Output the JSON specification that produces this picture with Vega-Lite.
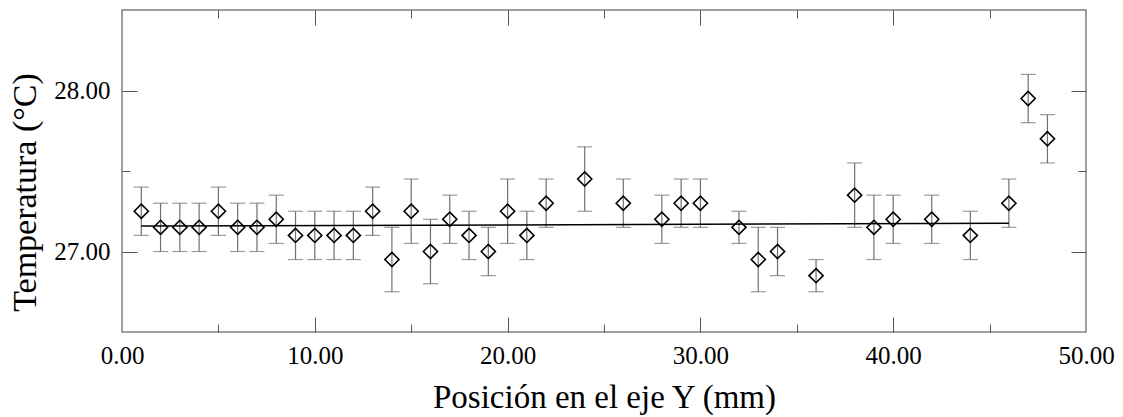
{
  "$schema": "https://vega.github.io/schema/vega-lite/v6.json",
  "width": 964,
  "height": 322,
  "autosize": "none",
  "padding": {"left": 122, "top": 10, "right": 37, "bottom": 85},
  "background": "white",
  "config": {
    "view": {"stroke": "#808080", "strokeWidth": 1.5},
    "font": "Liberation Serif",
    "style": {"guide-label": {"font": "Liberation Serif"}, "guide-title": {"font": "Liberation Serif"}},
    "axis": {"domain": false, "grid": false, "labelColor": "black", "titleColor": "black", "labelFont": "Liberation Serif", "titleFont": "Liberation Serif", "titleFontWeight": "normal"}
  },
  "datasets": {
    "pts": [
      {"x": 1, "y": 27.25, "lo": 27.10, "hi": 27.40},
      {"x": 2, "y": 27.15, "lo": 27.00, "hi": 27.30},
      {"x": 3, "y": 27.15, "lo": 27.00, "hi": 27.30},
      {"x": 4, "y": 27.15, "lo": 27.00, "hi": 27.30},
      {"x": 5, "y": 27.25, "lo": 27.10, "hi": 27.40},
      {"x": 6, "y": 27.15, "lo": 27.00, "hi": 27.30},
      {"x": 7, "y": 27.15, "lo": 27.00, "hi": 27.30},
      {"x": 8, "y": 27.20, "lo": 27.05, "hi": 27.35},
      {"x": 9, "y": 27.10, "lo": 26.95, "hi": 27.25},
      {"x": 10, "y": 27.10, "lo": 26.95, "hi": 27.25},
      {"x": 11, "y": 27.10, "lo": 26.95, "hi": 27.25},
      {"x": 12, "y": 27.10, "lo": 26.95, "hi": 27.25},
      {"x": 13, "y": 27.25, "lo": 27.10, "hi": 27.40},
      {"x": 14, "y": 26.95, "lo": 26.75, "hi": 27.15},
      {"x": 15, "y": 27.25, "lo": 27.05, "hi": 27.45},
      {"x": 16, "y": 27.00, "lo": 26.80, "hi": 27.20},
      {"x": 17, "y": 27.20, "lo": 27.05, "hi": 27.35},
      {"x": 18, "y": 27.10, "lo": 26.95, "hi": 27.25},
      {"x": 19, "y": 27.00, "lo": 26.85, "hi": 27.15},
      {"x": 20, "y": 27.25, "lo": 27.05, "hi": 27.45},
      {"x": 21, "y": 27.10, "lo": 26.95, "hi": 27.25},
      {"x": 22, "y": 27.30, "lo": 27.15, "hi": 27.45},
      {"x": 24, "y": 27.45, "lo": 27.25, "hi": 27.65},
      {"x": 26, "y": 27.30, "lo": 27.15, "hi": 27.45},
      {"x": 28, "y": 27.20, "lo": 27.05, "hi": 27.35},
      {"x": 29, "y": 27.30, "lo": 27.15, "hi": 27.45},
      {"x": 30, "y": 27.30, "lo": 27.15, "hi": 27.45},
      {"x": 32, "y": 27.15, "lo": 27.05, "hi": 27.25},
      {"x": 33, "y": 26.95, "lo": 26.75, "hi": 27.15},
      {"x": 34, "y": 27.00, "lo": 26.85, "hi": 27.15},
      {"x": 36, "y": 26.85, "lo": 26.75, "hi": 26.95},
      {"x": 38, "y": 27.35, "lo": 27.15, "hi": 27.55},
      {"x": 39, "y": 27.15, "lo": 26.95, "hi": 27.35},
      {"x": 40, "y": 27.20, "lo": 27.05, "hi": 27.35},
      {"x": 42, "y": 27.20, "lo": 27.05, "hi": 27.35},
      {"x": 44, "y": 27.10, "lo": 26.95, "hi": 27.25},
      {"x": 46, "y": 27.30, "lo": 27.15, "hi": 27.45},
      {"x": 47, "y": 27.95, "lo": 27.80, "hi": 28.10},
      {"x": 48, "y": 27.70, "lo": 27.55, "hi": 27.85}
    ],
    "fit": [
      {"x": 1, "y": 27.158},
      {"x": 46, "y": 27.175}
    ]
  },
  "resolve": {"axis": {"x": "independent", "y": "independent"}},
  "layer": [
    {
      "data": {"name": "pts"},
      "mark": {"type": "rule", "color": "#707070", "strokeWidth": 1.2},
      "encoding": {
        "x": {"field": "x", "type": "quantitative", "scale": {"domain": [0, 50], "nice": false, "zero": false},
          "axis": {"orient": "bottom", "values": [0, 10, 20, 30, 40, 50], "format": ".2f", "ticks": false, "labelFont": "Times New Roman", "labelFontSize": 25, "labelPadding": 11, "labelFlush": false, "title": "Posición en el eje Y (mm)", "titleFont": "Liberation Serif", "titleFontSize": 33, "titleBaseline": "alphabetic", "titleY": 75}},
        "y": {"field": "lo", "type": "quantitative", "scale": {"domain": [26.5, 28.5], "nice": false, "zero": false},
          "axis": {"orient": "left", "values": [27, 28], "format": ".2f", "ticks": false, "labelFont": "Times New Roman", "labelFontSize": 25, "labelPadding": 12, "title": "Temperatura (°C)", "titleFont": "Liberation Serif", "titleFontSize": 34, "titleAngle": -90, "titleBaseline": "middle", "titleX": -97, "titleY": 182}},
        "y2": {"field": "hi"}
      }
    },
    {
      "data": {"name": "pts"},
      "transform": [{"fold": ["lo", "hi"], "as": ["k", "v"]}],
      "mark": {"type": "tick", "orient": "horizontal", "color": "#707070", "size": 15, "thickness": 1.2},
      "encoding": {
        "x": {"field": "x", "type": "quantitative",
          "axis": {"orient": "bottom", "values": [5, 10, 15, 20, 25, 30, 35, 40, 45], "labels": false, "title": null, "tickColor": "#555", "tickWidth": 1,
            "tickSize": {"condition": {"test": "datum.value % 10 === 0", "value": -15}, "value": -8}}},
        "y": {"field": "v", "type": "quantitative",
          "axis": {"orient": "left", "values": [27, 27.5, 28], "labels": false, "title": null, "tickColor": "#555", "tickWidth": 1,
            "tickSize": {"condition": {"test": "datum.value === 27.5", "value": -8}, "value": -15}}}
      }
    },
    {
      "data": {"name": "pts"},
      "mark": {"type": "point", "shape": "diamond", "size": 200, "filled": false, "stroke": "black", "strokeWidth": 1.6, "opacity": 1},
      "encoding": {
        "x": {"field": "x", "type": "quantitative",
          "axis": {"orient": "top", "values": [5, 10, 15, 20, 25, 30, 35, 40, 45], "labels": false, "title": null, "tickColor": "#555", "tickWidth": 1,
            "tickSize": {"condition": {"test": "datum.value % 10 === 0", "value": -15}, "value": -8}}},
        "y": {"field": "y", "type": "quantitative",
          "axis": {"orient": "right", "values": [27, 27.5, 28], "labels": false, "title": null, "tickColor": "#555", "tickWidth": 1,
            "tickSize": {"condition": {"test": "datum.value === 27.5", "value": -8}, "value": -15}}}
      }
    },
    {
      "data": {"name": "fit"},
      "mark": {"type": "line", "color": "black", "strokeWidth": 1.5},
      "encoding": {
        "x": {"field": "x", "type": "quantitative", "axis": null},
        "y": {"field": "y", "type": "quantitative", "axis": null}
      }
    }
  ]
}
